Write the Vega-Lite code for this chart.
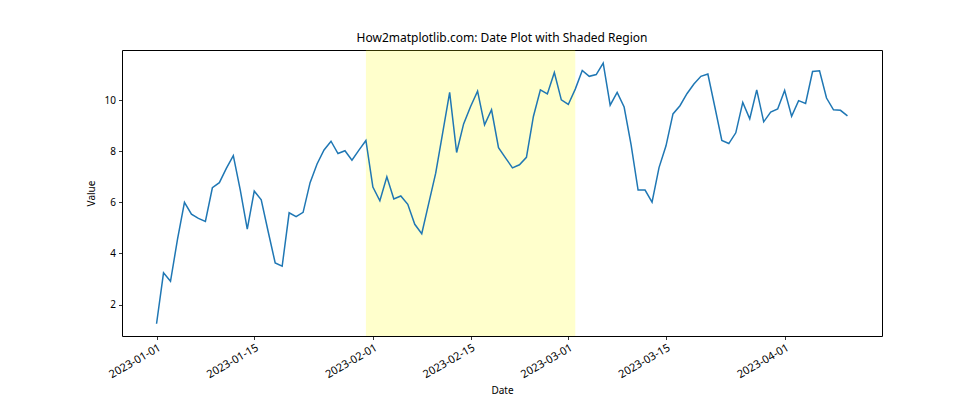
{
  "$schema": "https://vega.github.io/schema/vega-lite/v6.json",
  "autosize": {"type": "none"},
  "padding": {"left": 122, "top": 50, "right": 98, "bottom": 84},
  "width": 760,
  "height": 286,
  "background": "white",
  "title": {"text": "How2matplotlib.com: Date Plot with Shaded Region", "fontSize": 12, "font": "Noto Sans", "fontWeight": "normal", "color": "black", "offset": 5},
  "config": {
    "view": {"stroke": "black", "strokeWidth": 1},
    "axis": {"labelFont": "Noto Sans", "titleFont": "Noto Sans", "labelFontSize": 10, "titleFontSize": 10, "titleFontWeight": "normal", "labelColor": "black", "titleColor": "black", "tickColor": "black", "domainColor": "black", "tickSize": 3.5, "tickWidth": 0.8, "grid": false, "labelPadding": 3}
  },
  "layer": [
    {
      "data": {"values": [{"start": "2023-01-31", "end": "2023-03-02"}]},
      "mark": {"type": "rect", "color": "#ffff00", "opacity": 0.2},
      "encoding": {
        "x": {"field": "start", "type": "temporal", "scale": {"type": "utc"}},
        "x2": {"field": "end"}
      }
    },
    {
      "data": {"values": [
        {"date": "2023-01-01", "value": 1.25},
        {"date": "2023-01-02", "value": 3.24},
        {"date": "2023-01-03", "value": 2.91},
        {"date": "2023-01-04", "value": 4.55},
        {"date": "2023-01-05", "value": 6.00},
        {"date": "2023-01-06", "value": 5.54},
        {"date": "2023-01-07", "value": 5.37},
        {"date": "2023-01-08", "value": 5.25},
        {"date": "2023-01-09", "value": 6.57},
        {"date": "2023-01-10", "value": 6.77},
        {"date": "2023-01-11", "value": 7.33},
        {"date": "2023-01-12", "value": 7.83},
        {"date": "2023-01-13", "value": 6.48},
        {"date": "2023-01-14", "value": 4.95},
        {"date": "2023-01-15", "value": 6.44},
        {"date": "2023-01-16", "value": 6.10},
        {"date": "2023-01-17", "value": 4.85},
        {"date": "2023-01-18", "value": 3.63},
        {"date": "2023-01-19", "value": 3.50},
        {"date": "2023-01-20", "value": 5.59},
        {"date": "2023-01-21", "value": 5.44},
        {"date": "2023-01-22", "value": 5.61},
        {"date": "2023-01-23", "value": 6.77},
        {"date": "2023-01-24", "value": 7.50},
        {"date": "2023-01-25", "value": 8.05},
        {"date": "2023-01-26", "value": 8.39},
        {"date": "2023-01-27", "value": 7.91},
        {"date": "2023-01-28", "value": 8.02},
        {"date": "2023-01-29", "value": 7.65},
        {"date": "2023-01-30", "value": 8.04},
        {"date": "2023-01-31", "value": 8.42},
        {"date": "2023-02-01", "value": 6.60},
        {"date": "2023-02-02", "value": 6.06},
        {"date": "2023-02-03", "value": 7.00},
        {"date": "2023-02-04", "value": 6.13},
        {"date": "2023-02-05", "value": 6.25},
        {"date": "2023-02-06", "value": 5.92},
        {"date": "2023-02-07", "value": 5.14},
        {"date": "2023-02-08", "value": 4.77},
        {"date": "2023-02-09", "value": 5.96},
        {"date": "2023-02-10", "value": 7.14},
        {"date": "2023-02-11", "value": 8.72},
        {"date": "2023-02-12", "value": 10.30},
        {"date": "2023-02-13", "value": 7.95},
        {"date": "2023-02-14", "value": 9.07},
        {"date": "2023-02-15", "value": 9.75},
        {"date": "2023-02-16", "value": 10.35},
        {"date": "2023-02-17", "value": 9.03},
        {"date": "2023-02-18", "value": 9.62},
        {"date": "2023-02-19", "value": 8.14},
        {"date": "2023-02-20", "value": 7.74},
        {"date": "2023-02-21", "value": 7.35},
        {"date": "2023-02-22", "value": 7.47},
        {"date": "2023-02-23", "value": 7.76},
        {"date": "2023-02-24", "value": 9.36},
        {"date": "2023-02-25", "value": 10.40},
        {"date": "2023-02-26", "value": 10.24},
        {"date": "2023-02-27", "value": 11.08},
        {"date": "2023-02-28", "value": 10.01},
        {"date": "2023-03-01", "value": 9.83},
        {"date": "2023-03-02", "value": 10.43},
        {"date": "2023-03-03", "value": 11.16},
        {"date": "2023-03-04", "value": 10.93},
        {"date": "2023-03-05", "value": 11.00},
        {"date": "2023-03-06", "value": 11.45},
        {"date": "2023-03-07", "value": 9.80},
        {"date": "2023-03-08", "value": 10.30},
        {"date": "2023-03-09", "value": 9.73},
        {"date": "2023-03-10", "value": 8.25},
        {"date": "2023-03-11", "value": 6.48},
        {"date": "2023-03-12", "value": 6.48},
        {"date": "2023-03-13", "value": 6.01},
        {"date": "2023-03-14", "value": 7.36},
        {"date": "2023-03-15", "value": 8.21},
        {"date": "2023-03-16", "value": 9.46},
        {"date": "2023-03-17", "value": 9.78},
        {"date": "2023-03-18", "value": 10.25},
        {"date": "2023-03-19", "value": 10.63},
        {"date": "2023-03-20", "value": 10.93},
        {"date": "2023-03-21", "value": 11.02},
        {"date": "2023-03-22", "value": 9.73},
        {"date": "2023-03-23", "value": 8.42},
        {"date": "2023-03-24", "value": 8.30},
        {"date": "2023-03-25", "value": 8.72},
        {"date": "2023-03-26", "value": 9.91},
        {"date": "2023-03-27", "value": 9.27},
        {"date": "2023-03-28", "value": 10.40},
        {"date": "2023-03-29", "value": 9.15},
        {"date": "2023-03-30", "value": 9.53},
        {"date": "2023-03-31", "value": 9.65},
        {"date": "2023-04-01", "value": 10.38},
        {"date": "2023-04-02", "value": 9.37},
        {"date": "2023-04-03", "value": 9.98},
        {"date": "2023-04-04", "value": 9.87},
        {"date": "2023-04-05", "value": 11.12},
        {"date": "2023-04-06", "value": 11.15},
        {"date": "2023-04-07", "value": 10.08},
        {"date": "2023-04-08", "value": 9.62},
        {"date": "2023-04-09", "value": 9.60},
        {"date": "2023-04-10", "value": 9.38}
      ]},
      "mark": {"type": "line", "color": "#1f77b4", "strokeWidth": 1.5},
      "encoding": {
        "x": {
          "field": "date", "type": "temporal", "title": "Date",
          "scale": {"type": "utc", "domain": [
            {"year": 2022, "month": 12, "date": 27, "hours": 1, "minutes": 12, "utc": true},
            {"year": 2023, "month": 4, "date": 14, "hours": 22, "minutes": 48, "utc": true}
          ], "nice": false},
          "axis": {
            "values": [
              {"year": 2023, "month": 1, "date": 1, "utc": true},
              {"year": 2023, "month": 1, "date": 15, "utc": true},
              {"year": 2023, "month": 2, "date": 1, "utc": true},
              {"year": 2023, "month": 2, "date": 15, "utc": true},
              {"year": 2023, "month": 3, "date": 1, "utc": true},
              {"year": 2023, "month": 3, "date": 15, "utc": true},
              {"year": 2023, "month": 4, "date": 1, "utc": true}
            ],
            "labelExpr": "utcFormat(datum.value, '%Y-%m-%d')",
            "labelAngle": -30, "labelAlign": "right", "labelBaseline": "top",
            "labelFontSize": 11,
            "labelPadding": 2,
            "titlePadding": 6,
            "domain": false
          }
        },
        "y": {
          "field": "value", "type": "quantitative", "title": "Value",
          "scale": {"domain": [0.77, 11.96], "nice": false, "zero": false},
          "axis": {"values": [2, 4, 6, 8, 10], "domain": false, "titlePadding": 8}
        }
      }
    }
  ]
}
